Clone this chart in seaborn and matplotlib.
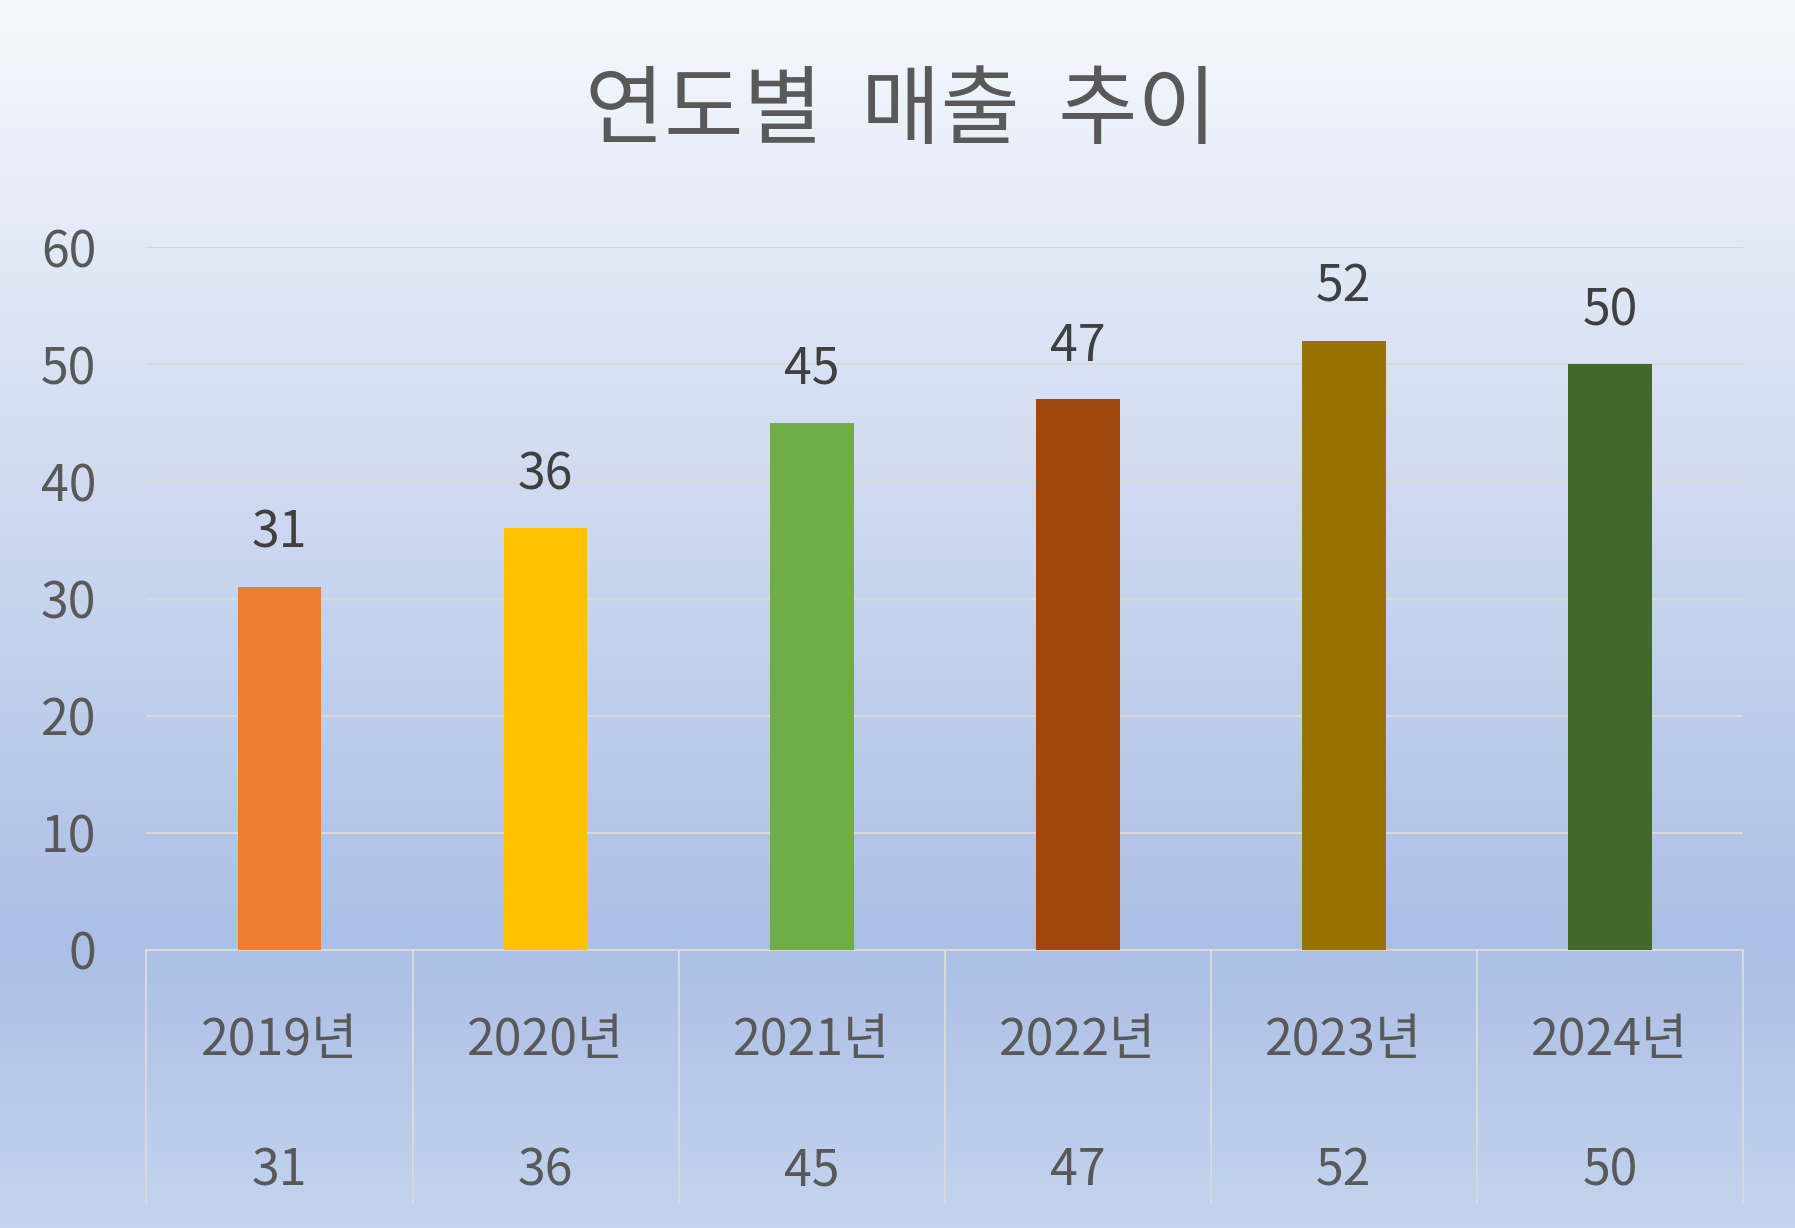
import matplotlib
matplotlib.use("Agg")
import matplotlib.pyplot as plt
import seaborn as sns
import numpy as np
import pandas as pd
from matplotlib.colors import LinearSegmentedColormap

years = ["2019년", "2020년", "2021년", "2022년", "2023년", "2024년"]
sales = [31, 36, 45, 47, 52, 50]
colors = ["#ED7D31", "#FFC000", "#70AD47", "#9E480E", "#997300", "#43682B"]
title = "연도별  매출  추이"
yticks = [0, 10, 20, 30, 40, 50, 60]

sns.set_theme(style="white")
plt.rcParams['font.family'] = ['Noto Sans CJK KR', 'DejaVu Sans']
txt = "#595959"
fs = 36

fig = plt.figure(figsize=(17.95, 12.28), dpi=100)
bg = fig.add_axes([0, 0, 1, 1], zorder=-10)
cmap = LinearSegmentedColormap.from_list("g", [(0, "#f6f8fd"), (0.77, "#abbfe5"), (1, "#c4d4ef")])
bg.imshow(np.linspace(0, 1, 256)[:, None], aspect="auto", cmap=cmap, extent=[0, 1, 0, 1])
bg.axis("off")

ax = fig.add_axes([0.0816, 0.2265, 0.8894, 0.5722])
ax.patch.set_alpha(0)
df = pd.DataFrame({"year": years, "sales": sales})
sns.barplot(data=df, x="year", y="sales", hue="year", palette=colors, legend=False,
            width=0.315, saturation=1, ax=ax, zorder=3, linewidth=0, edgecolor="none")
ax.set_ylim(0, 60)
ax.set_xlim(-0.5, 5.5)
ax.set_yticks(yticks)
ax.set_yticklabels([str(t) for t in yticks], fontsize=fs, color=txt)
ax.tick_params(axis="y", length=0, pad=36)
ax.set_xticks([])
ax.set_xlabel("")
ax.set_ylabel("")
ax.grid(axis="y", color="#d9d9d9", lw=1.5, zorder=0)
for s in ["top", "right", "left"]:
    ax.spines[s].set_visible(False)
ax.spines["bottom"].set_color("#d9d9d9")
ax.spines["bottom"].set_linewidth(1.5)

for i, v in enumerate(sales):
    ax.text(i, v + 2.3, str(v), ha="center", va="bottom", fontsize=fs, color="#404040")

tr = ax.get_xaxis_transform()
for b in np.arange(-0.5, 6, 1):
    ax.plot([b, b], [0, -0.36], transform=tr, color="#d9d9d9", lw=1.5, clip_on=False)
for i, (y, v) in enumerate(zip(years, sales)):
    ax.text(i, -0.13, y, transform=tr, ha="center", va="center", fontsize=fs, color=txt)
    ax.text(i, -0.315, str(v), transform=tr, ha="center", va="center", fontsize=fs, color=txt)

fig.text(0.502, 0.908, title, ha="center", va="center", fontsize=62, color=txt)
fig.savefig("out.png", dpi=100)
